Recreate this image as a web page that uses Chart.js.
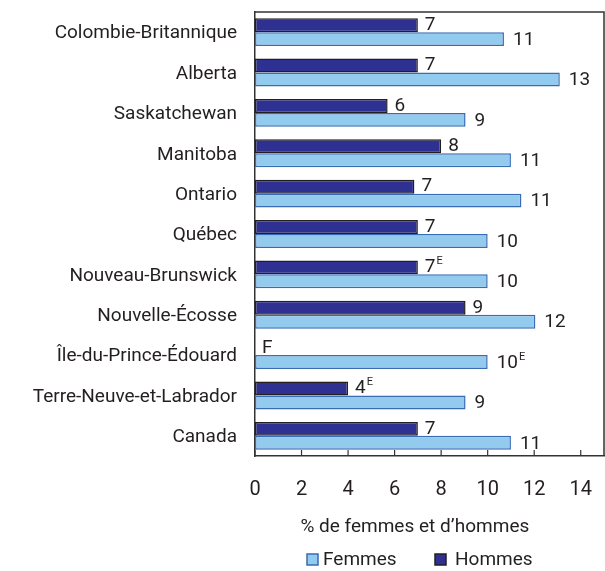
<!DOCTYPE html>
<html>
<head>
<meta charset="utf-8">
<style>
  html, body { margin: 0; padding: 0; background: #fff; }
  #wrap { width: 605px; height: 571px; }
</style>
</head>
<body>
<div id="wrap"><canvas id="chart"></canvas></div>
<script src="https://cdn.jsdelivr.net/npm/chart.js"></script>
<script>
// provinces, top to bottom
const provinces = ['Colombie-Britannique', 'Alberta', 'Saskatchewan', 'Manitoba', 'Ontario', 'Québec',
    'Nouveau-Brunswick', 'Nouvelle-Écosse', 'Île-du-Prince-Édouard', 'Terre-Neuve-et-Labrador', 'Canada'];
// bar lengths (null = F, too unreliable to publish)
const hommes = [7.0, 7.0, 5.7, 8.0, 6.85, 7.0, 7.0, 9.05, null, 4.0, 7.0];
const femmes = [10.7, 13.1, 9.05, 11.0, 11.45, 10.0, 10.0, 12.05, 10.0, 9.05, 11.0];
// printed labels and their quality flags
const hommesLabels = ['7', '7', '6', '8', '7', '7', '7', '9', 'F', '4', '7'];
const hommesFlags  = ['', '', '', '', '', '', 'E', '', '', 'E', ''];
const femmesLabels = ['11', '13', '9', '11', '11', '10', '10', '12', '10', '9', '11'];
const femmesFlags  = ['', '', '', '', '', '', '', '', 'E', '', ''];
const xTicks = [0, 2, 4, 6, 8, 10, 12, 14];
const axisTitle = '% de femmes et d\u2019hommes';

const FONT = 'Roboto, "Liberation Sans", sans-serif';
const INK = '#231f20';

// drop the extra room Chart.js keeps for half-labels
function noPad(scale) {
    scale.paddingTop = 0;
    scale.paddingBottom = 0;
    scale.paddingLeft = 0;
    scale.paddingRight = 0;
}

const decorations = {
    id: 'decorations',
    afterDatasetsDraw(chart) {
        const ctx = chart.ctx;
        const a = chart.chartArea;
        const xs = chart.scales.x;

        // frame top and right
        ctx.save();
        ctx.strokeStyle = '#333';
        ctx.lineWidth = 1.5;
        ctx.beginPath();
        ctx.moveTo(a.left, a.top);
        ctx.lineTo(a.right, a.top);
        ctx.lineTo(a.right, a.bottom);
        ctx.stroke();

        // inward tick marks
        ctx.lineWidth = 1.2;
        xTicks.forEach(function(v) {
            const px = xs.getPixelForValue(v);
            ctx.beginPath();
            ctx.moveTo(px, a.bottom);
            ctx.lineTo(px, a.bottom - 6);
            ctx.stroke();
        });

        // value labels
        const metaH = chart.getDatasetMeta(0);
        const metaF = chart.getDatasetMeta(1);
        ctx.fillStyle = INK;
        ctx.textBaseline = 'middle';
        ctx.textAlign = 'left';
        function label(x, y, txt, flag) {
            ctx.font = '19px ' + FONT;
            ctx.fillText(txt, x, y);
            if (flag) {
                const w = ctx.measureText(txt).width;
                ctx.font = '11px ' + FONT;
                ctx.fillText(flag, x + w + 1, y - 6);
            }
        }
        provinces.forEach(function(p, i) {
            const f = metaF.data[i];
            label(f.x + 9, f.y + 1, femmesLabels[i], femmesFlags[i]);
            const h = metaH.data[i];
            let hx = h.x, hy = h.y;
            if (hommes[i] === null || !isFinite(hx)) {
                hx = xs.getPixelForValue(0);
                hy = f.y - f.height;
            }
            label(hx + 7, hy, hommesLabels[i], hommesFlags[i]);
        });

        // axis title
        ctx.font = '19px ' + FONT;
        ctx.textAlign = 'center';
        ctx.fillText(axisTitle, xs.getPixelForValue(7) - 3, 527);

        // legend (Femmes first)
        ctx.textAlign = 'left';
        ctx.font = '19px ' + FONT;
        ctx.lineWidth = 1.5;
        ctx.fillStyle = '#93cbee';
        ctx.strokeStyle = '#3a6bb5';
        ctx.fillRect(307, 554, 11, 11);
        ctx.strokeRect(307, 554, 11, 11);
        ctx.fillStyle = INK;
        ctx.fillText('Femmes', 323, 560);
        ctx.fillStyle = '#2e3192';
        ctx.strokeStyle = '#231f20';
        ctx.fillRect(435, 554, 11, 11);
        ctx.strokeRect(435, 554, 11, 11);
        ctx.fillStyle = INK;
        ctx.fillText('Hommes', 455, 560);
        ctx.restore();
    }
};

new Chart(document.getElementById('chart'), {
    type: 'bar',
    data: {
        labels: provinces,
        datasets: [{
            label: 'Hommes',
            data: hommes,
            backgroundColor: '#2e3192',
            borderColor: '#231f20',
            borderWidth: 1.5,
            borderSkipped: false,
            barPercentage: 1,
            categoryPercentage: 0.69
        }, {
            label: 'Femmes',
            data: femmes,
            backgroundColor: '#93cbee',
            borderColor: '#3a6bb5',
            borderWidth: 1.5,
            borderSkipped: false,
            barPercentage: 1,
            categoryPercentage: 0.69
        }]
    },
    options: {
        indexAxis: 'y',
        responsive: true,
        maintainAspectRatio: false,
        animation: false,
        layout: { padding: { top: 12, right: 1, left: 0, bottom: 0 } },
        plugins: {
            legend: { display: false },
            tooltip: { enabled: false }
        },
        scales: {
            x: {
                min: 0,
                max: 15,
                afterFit: function(scale) { scale.height = 115; noPad(scale); },
                afterBuildTicks: function(scale) {
                    scale.ticks = xTicks.map(function(v) { return { value: v }; });
                },
                grid: { display: false, drawTicks: false },
                border: { display: true, color: '#333', width: 1.5 },
                ticks: {
                    padding: 22,
                    color: INK,
                    font: { family: FONT, size: 20 },
                    maxRotation: 0
                }
            },
            y: {
                afterFit: function(scale) { scale.width = 255; noPad(scale); },
                grid: { display: false, drawTicks: false },
                border: { display: true, color: '#333', width: 1.5 },
                ticks: {
                    padding: 18,
                    labelOffset: 1.5,
                    color: INK,
                    font: { family: FONT, size: 19 },
                    autoSkip: false
                }
            }
        }
    },
    plugins: [decorations]
});
</script>
</body>
</html>
